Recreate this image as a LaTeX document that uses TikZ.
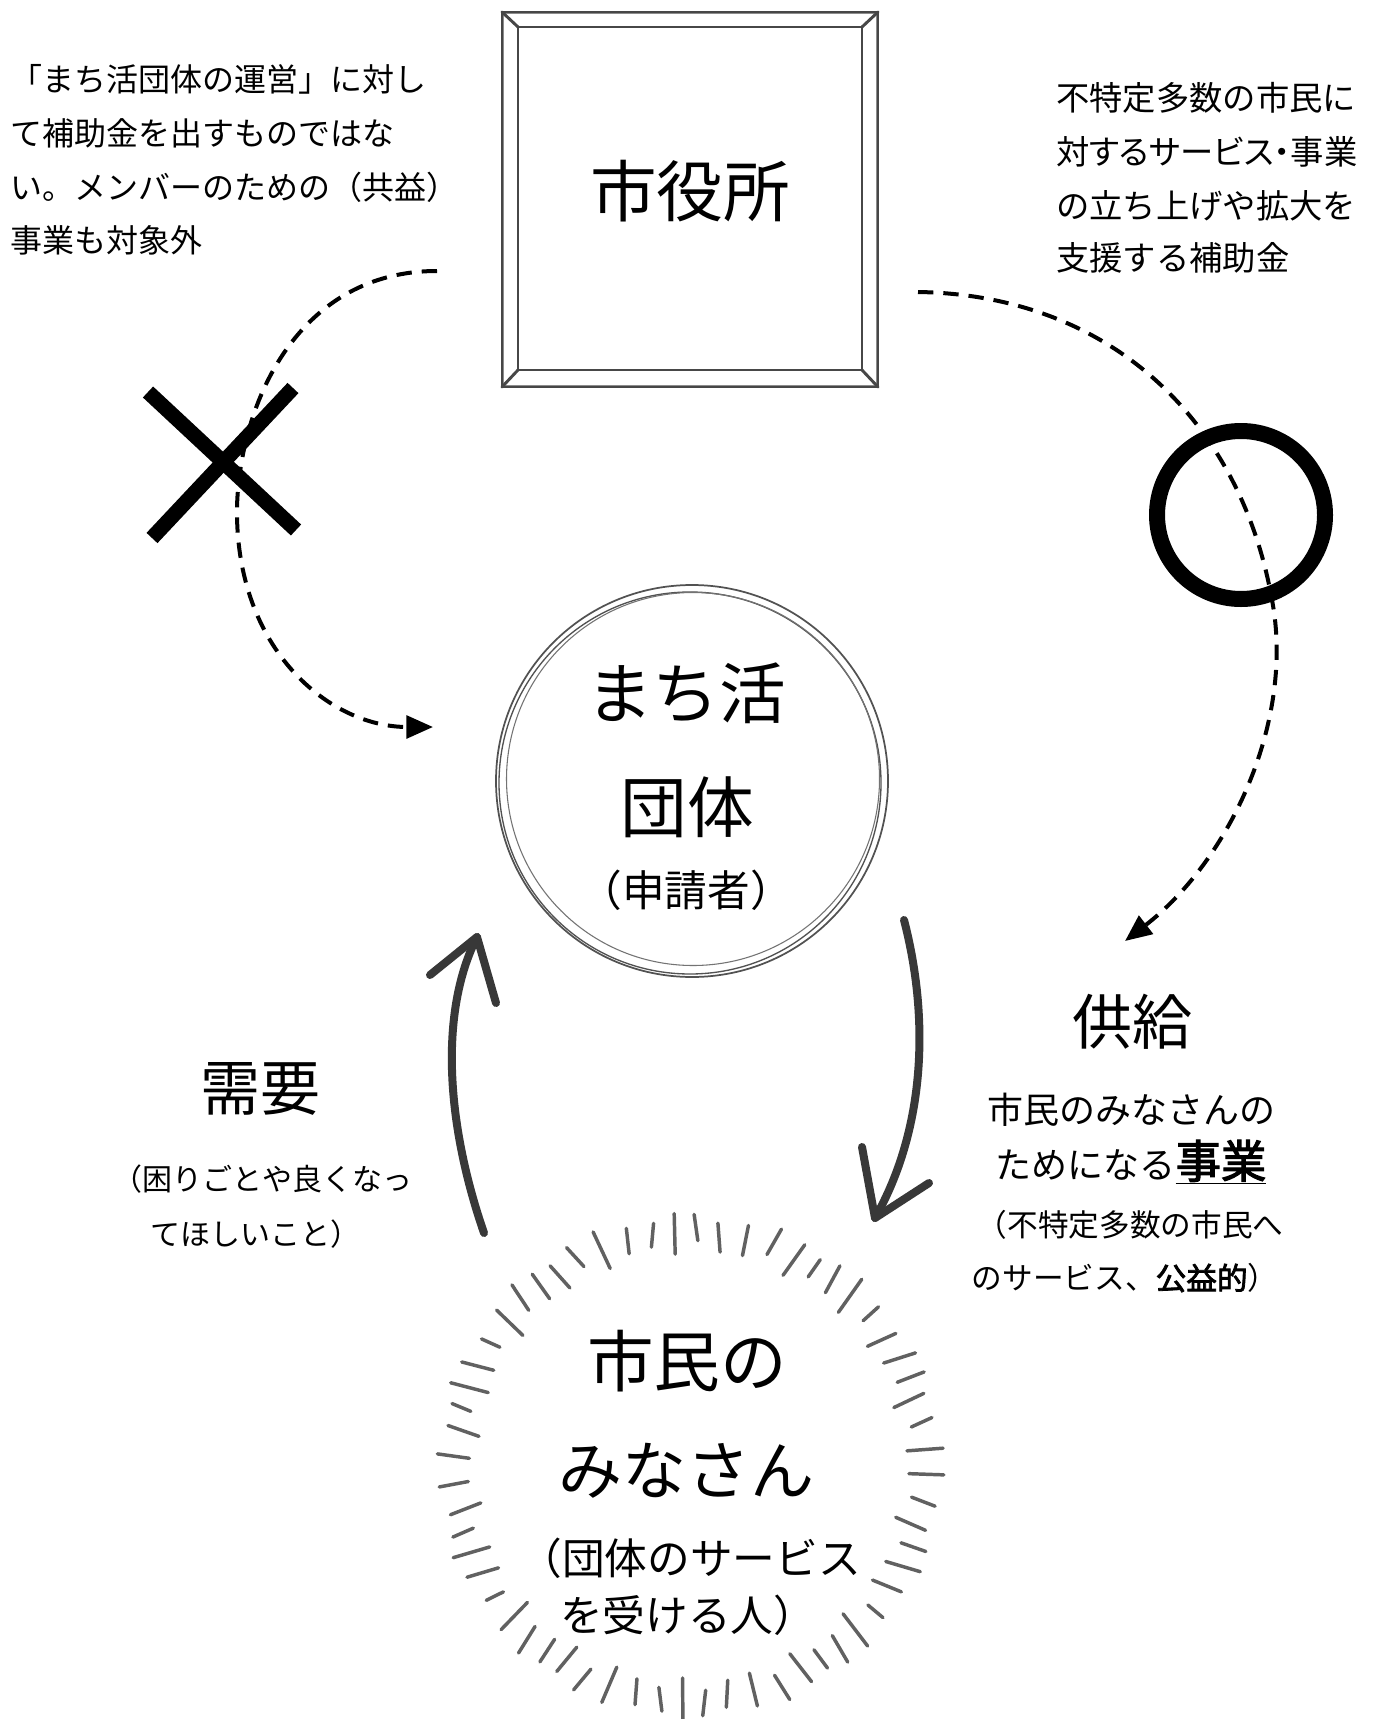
\documentclass[tikz,border=0pt]{standalone}
\usepackage{fontspec}
\setmainfont{Noto Sans CJK JP}
\usetikzlibrary{arrows.meta}
\tikzset{
  pencil/.style={draw=black!72, line width=2.2pt, line cap=round, line join=round},
  ringline/.style={draw=black!68, line width=1.3pt},
  dashconn/.style={line width=3pt, dash pattern=on 11.5pt off 7.5pt, -{Triangle[length=20pt,width=17pt]}},
  bigmark/.style={line width=11.25pt},
  pencilarrow/.style={draw=black!78, line width=6pt, line cap=round, line join=round},
  tickmark/.style={draw=black!62, line width=2.6pt, line cap=round},
  txt/.style={inner sep=0pt, outer sep=0pt},
  huge/.style={txt, font=\fontsize{50pt}{50pt}\selectfont},
  large/.style={txt, font=\fontsize{45pt}{45pt}\selectfont},
  sub/.style={txt, font=\fontsize{30pt}{30pt}\selectfont},
  note/.style={txt, anchor=west, font=\fontsize{24pt}{24pt}\selectfont},
  noter/.style={txt, anchor=west, font=\fontsize{25pt}{25pt}\selectfont},
  mid/.style={txt, font=\fontsize{27pt}{27pt}\selectfont},
  small/.style={txt, font=\fontsize{23pt}{23pt}\selectfont},
}
\newcommand{\semibold}[1]{{\addfontfeature{FakeBold=2.5}#1}}
\begin{document}
\begin{tikzpicture}[x=0.75pt,y=-0.75pt]
\useasboundingbox (0,0) rectangle (1375,1719);
\fill[white] (0,0) rectangle (1375,1719);

% ---------- City hall box ----------
\draw[pencil] (502,12) rectangle (878,387);
\draw[pencil, draw=black!45, line width=1pt] (503.5,13.5) rectangle (876.5,385.5);
\draw[pencil] (518,27) rectangle (862,370);
\draw[pencil] (502,12) -- (518,27) (878,12) -- (862,27)
              (502,387) -- (518,370) (878,387) -- (862,370);
\node[huge] (hall) at (690,191) {市役所};

% ---------- top notes ----------
\node[note] (tl1) at (10,79)  {「まち活団体の運営」に対し};
\node[note] (tl2) at (10,133) {て補助金を出すものではな};
\node[note] (tl3) at (10,187) {い。メンバーのための（共益）};
\node[note] (tl4) at (10,240) {事業も対象外};

\node[noter] (tr1) at (1056,98)  {不特定多数の市民に};
\node[noter, font=\fontsize{25pt}{25pt}\selectfont\addfontfeature{RawFeature=+palt}] (tr2) at (1056,152) {対するサービス・事業};
\node[noter] (tr3) at (1056,206) {の立ち上げや拡大を};
\node[noter] (tr4) at (1056,258) {支援する補助金};

% ---------- Machikatsu group circle ----------
\coordinate (mc) at (692,781);
\draw[ringline] (mc) circle[radius=196];
\draw[ringline, line width=1pt] ([shift={(-2,2)}]mc) circle[radius=191];
\draw[ringline, line width=0.8pt, draw=black!55] ([shift={(1,-2)}]mc) circle[radius=186.5];
\node[huge] (m1) at (686,693) {まち活};
\node[huge] (m2) at (687,807) {団体};
\node[sub, font=\fontsize{32pt}{32pt}\selectfont] (m3) at (686,890) {（申請者）};

% ---------- dashed connectors ----------
\coordinate (ls) at (437,271);
\coordinate (lm) at (237,507);
\coordinate (le) at (433,727);
\draw[dashconn] (ls) .. controls (300,271) and (240,400) .. (lm)
                     .. controls (235,650) and (330,727) .. (le);

\coordinate (rs) at (918,292);
\coordinate (rm) at (1272,600);
\coordinate (re) at (1125,941);
\draw[dashconn] (rs) .. controls (1110,295) and (1240,420) .. (rm)
                     .. controls (1295,720) and (1230,860) .. (re);

% ---------- X and O marks ----------
\coordinate (xa1) at (148,392); \coordinate (xa2) at (296,530);
\coordinate (xb1) at (293,388); \coordinate (xb2) at (152,538);
\draw[bigmark] (xa1) -- (xa2);
\draw[bigmark] (xb1) -- (xb2);
\coordinate (oc) at (1241,515);
\draw[line width=12pt] (oc) circle[radius=84];

% ---------- demand / supply arrows ----------
\coordinate (dt) at (484,1233);
\coordinate (dh) at (477,937);
\draw[pencilarrow] (dt) .. controls (445,1120) and (440,1010) .. (dh);
\draw[pencilarrow] ([shift={(-47,38)}]dh) -- (dh) -- ([shift={(19,66)}]dh);

\coordinate (st) at (904,920);
\coordinate (sh) at (875,1218);
\draw[pencilarrow] (st) .. controls (930,1020) and (925,1130) .. (sh);
\draw[pencilarrow] ([shift={(-13,-71)}]sh) -- (sh) -- ([shift={(54,-35)}]sh);

\node[large] (demand) at (260,1089) {需要};
\node[small, font=\fontsize{22.5pt}{22.5pt}\selectfont] (d1) at (262,1179) {（困りごとや良くなっ};
\node[small, font=\fontsize{22.5pt}{22.5pt}\selectfont] (d2) at (255,1234) {てほしいこと）};

\node[large] (supply) at (1132,1022) {供給};
\node[mid] (s1) at (1131,1110) {市民のみなさんの};
\node[mid, anchor=base] (s2) at (1131,1178) {ためになる\underline{\fontsize{34pt}{34pt}\selectfont\semibold{事業}}};
\node[small] (s3) at (1130,1225) {（不特定多数の市民へ};
\node[small] (s4) at (1125,1278) {のサービス、\semibold{公益的}）};

% ---------- citizens (tick circle) ----------
\coordinate (cc) at (690,1466);
\foreach \i in {0,...,59} {
  \pgfmathsetmacro{\ang}{\i*6+2}
  \pgfmathsetmacro{\ra}{219+7*sin(\i*137.5)}
  \pgfmathsetmacro{\rb}{249+5*cos(\i*97.3)}
  \pgfmathsetmacro{\tw}{1.5*sin(\i*61)}
  \draw[tickmark] ([shift={(\ang:\ra)}]cc) -- ([shift={(\ang+\tw:\rb)}]cc);
}
\node[huge] (c1) at (687,1361) {市民の};
\node[huge, font=\fontsize{48pt}{48pt}\selectfont] (c2) at (686,1471) {みなさん};
\node[sub, font=\fontsize{32pt}{32pt}\selectfont] (c3) at (690,1558) {（団体のサービス};
\node[sub, font=\fontsize{32pt}{32pt}\selectfont] (c4) at (688,1615) {を受ける人）};
\end{tikzpicture}
\end{document}
